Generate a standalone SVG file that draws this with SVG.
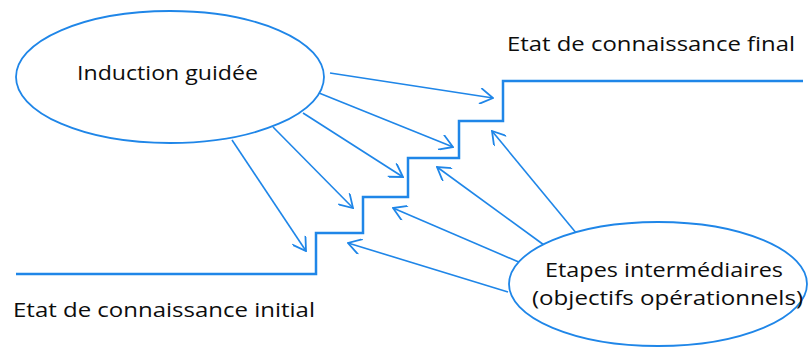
<svg xmlns="http://www.w3.org/2000/svg" width="808" height="348" viewBox="0 0 808 348">
<defs>
<style>
.shape{fill:#ffffff;stroke:#1f86e8;stroke-width:1.8}
.stair{fill:none;stroke:#1f86e8;stroke-width:2.5}
.arr{fill:none;stroke:#1f86e8;stroke-width:1.6;marker-end:url(#head)}
.lbl{font-family:"Open Sans","Liberation Sans",sans-serif;font-size:20px;fill:#0d0d0d}
</style>
<marker id="head" viewBox="0 0 16 16" refX="15" refY="8" markerWidth="16" markerHeight="16" markerUnits="userSpaceOnUse" orient="auto">
<path d="M2,0 L15,8 L2,16" fill="none" stroke="#1f86e8" stroke-width="1.8"/>
</marker>
</defs>
<rect width="808" height="348" fill="#ffffff"/>
<g id="staircase">
<polyline class="stair" points="16,274 316,274 316,233 363,233 363,197 408,197 408,158 459,158 459,121 503,121 503,81 803,81"/>
</g>
<g id="label-final"><text class="lbl" x="507" y="51" textLength="288" lengthAdjust="spacingAndGlyphs">Etat de connaissance final</text></g>
<g id="label-initial"><text class="lbl" x="13" y="317" textLength="302" lengthAdjust="spacingAndGlyphs">Etat de connaissance initial</text></g>
<g id="connectors">
<line class="arr" x1="330" y1="73" x2="493" y2="98"/>
<line class="arr" x1="319" y1="93" x2="453" y2="147"/>
<line class="arr" x1="303" y1="113" x2="403" y2="177"/>
<line class="arr" x1="273" y1="127" x2="353" y2="208"/>
<line class="arr" x1="232" y1="140" x2="306" y2="251"/>
<line class="arr" x1="577" y1="234" x2="492" y2="131"/>
<line class="arr" x1="544" y1="245" x2="437" y2="167"/>
<line class="arr" x1="521" y1="263" x2="393" y2="208"/>
<line class="arr" x1="508" y1="292" x2="348" y2="243"/>
</g>
<g id="induction">
<ellipse class="shape" cx="170" cy="77" rx="154" ry="66"/>
<text class="lbl" x="77" y="80" textLength="181" lengthAdjust="spacingAndGlyphs">Induction guidée</text>
</g>
<g id="etapes">
<ellipse class="shape" cx="658" cy="284" rx="149" ry="62"/>
<text class="lbl" x="545" y="277" textLength="238" lengthAdjust="spacingAndGlyphs">Etapes intermédiaires</text>
<text class="lbl" x="532" y="305" textLength="271" lengthAdjust="spacingAndGlyphs">(objectifs opérationnels)</text>
</g>
</svg>
